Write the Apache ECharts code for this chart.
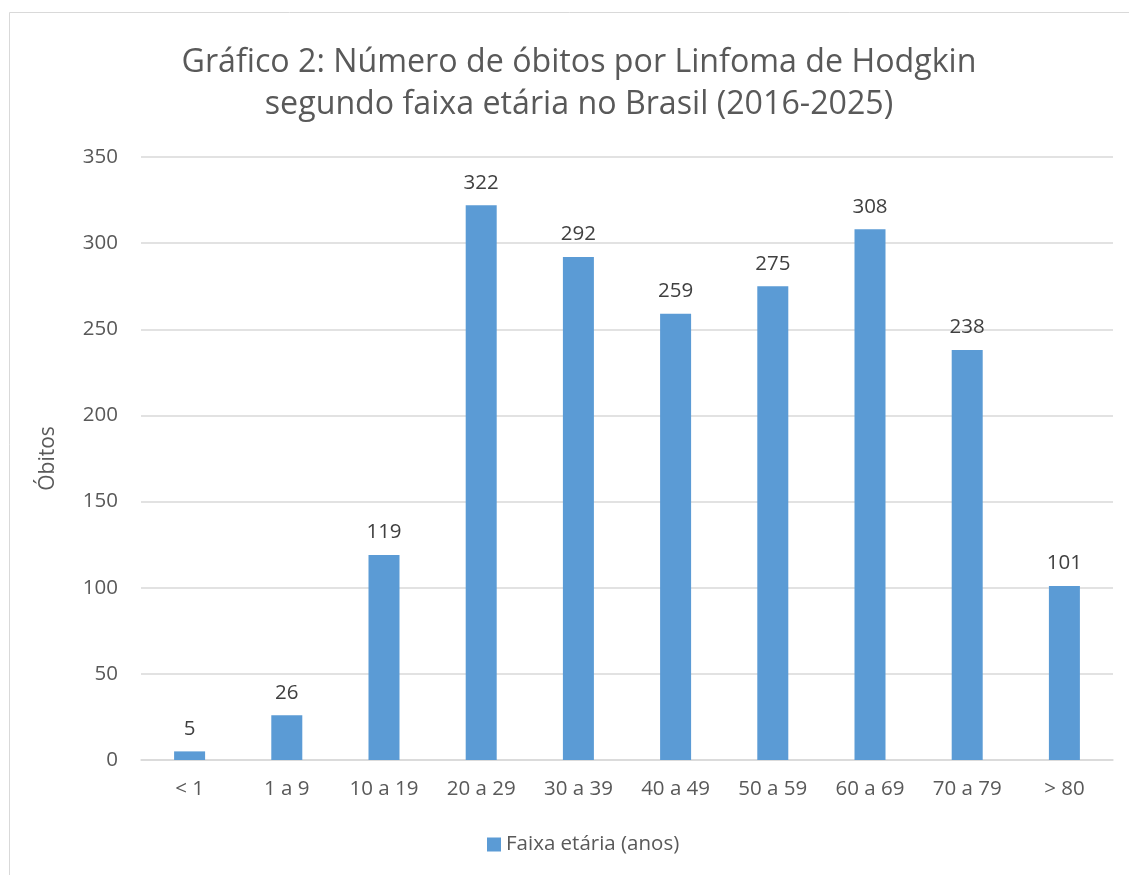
<!DOCTYPE html>
<html><head><meta charset="utf-8">
<script src="https://cdn.jsdelivr.net/npm/echarts@6/dist/echarts.min.js"></script>
<style>html,body{margin:0;padding:0;background:#fff}#c{width:1129px;height:875px}</style>
</head><body><div id="c"></div>
<script>
const categories = ["< 1","1 a 9","10 a 19","20 a 29","30 a 39","40 a 49","50 a 59","60 a 69","70 a 79","> 80"];
const obitos = [5,26,119,322,292,259,275,308,238,101];
const titleLines = ["Gráfico 2: Número de óbitos por Linfoma de Hodgkin","segundo faixa etária no Brasil (2016-2025)"];
const seriesName = "Faixa etária (anos)";
const yAxisName = "Óbitos";
const FONT = "'Open Sans', sans-serif";
const chart = echarts.init(document.getElementById('c'), null, {renderer:'canvas'});
chart.setOption({
  animation:false,
  backgroundColor:'#fff',
  graphic:[{type:'rect',shape:{x:9.5,y:12.5,width:1140,height:900},style:{fill:'none',stroke:'#d9d9d9',lineWidth:1},silent:true,z:-1}],
  title:{text:titleLines.join('\n'),left:574,textAlign:'center',top:37,
    textStyle:{fontFamily:FONT,fontSize:32.2,fontWeight:'normal',color:'#595959',lineHeight:42}},
  legend:{bottom:15,left:482,itemWidth:14,itemHeight:14,itemGap:6,icon:'rect',
    textStyle:{fontFamily:FONT,fontSize:20.5,color:'#595959'},data:[seriesName]},
  grid:{left:141,right:16,top:157,bottom:115,containLabel:false},
  xAxis:{type:'category',data:categories,
    axisLine:{lineStyle:{color:'#d9d9d9',width:1.5}},axisTick:{show:false},
    axisLabel:{fontFamily:FONT,fontSize:20.5,color:'#595959',margin:19}},
  yAxis:{type:'value',min:0,max:350,interval:50,name:yAxisName,nameLocation:'middle',nameGap:82,
    nameTextStyle:{fontFamily:FONT,fontSize:21,color:'#595959'},
    axisLine:{show:false},axisTick:{show:false},
    splitLine:{lineStyle:{color:'#d9d9d9',width:1.5}},
    axisLabel:{fontFamily:FONT,fontSize:20.5,color:'#595959',margin:23}},
  series:[{name:seriesName,type:'bar',data:obitos,barWidth:31,
    itemStyle:{color:'#5b9bd5'},
    label:{show:true,position:'top',distance:12,fontFamily:FONT,fontSize:20.5,color:'#404040'}}]
});
</script></body></html>
